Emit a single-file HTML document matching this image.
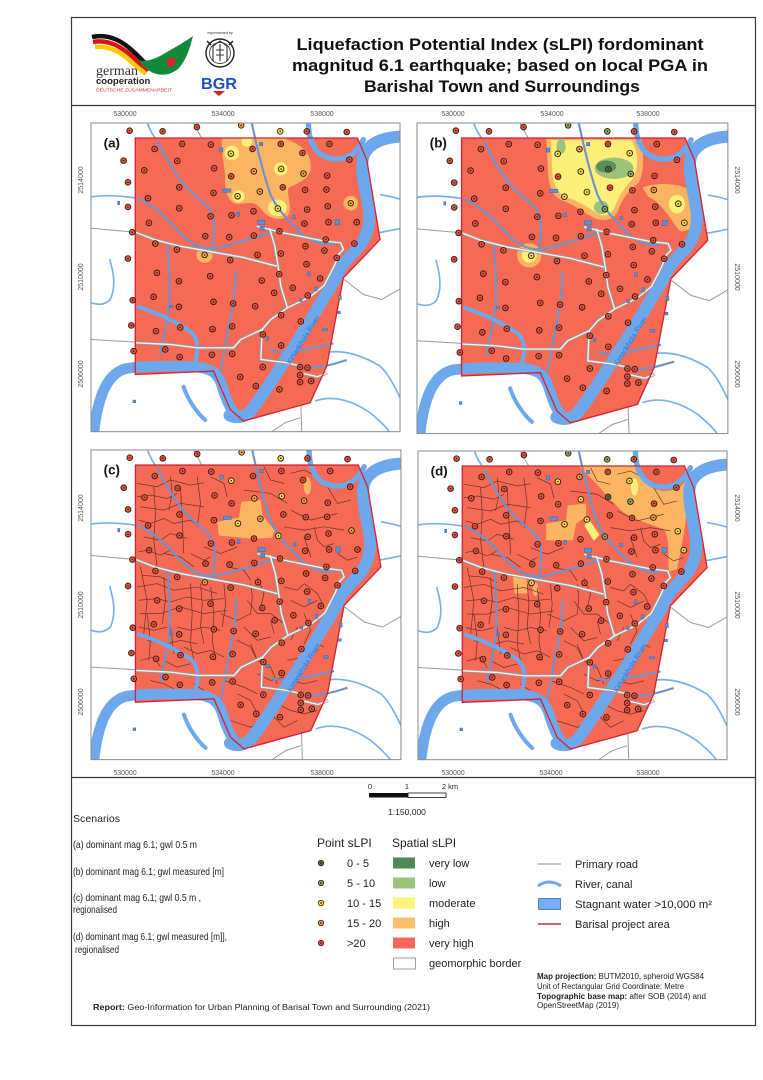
<!DOCTYPE html>
<html><head><meta charset="utf-8">
<style>
html,body{margin:0;padding:0;background:#fff;width:763px;height:1080px;overflow:hidden}
svg{display:block;font-family:"Liberation Sans",Arial,sans-serif}
.r{fill:#e8543e}.o{fill:#f3a648}.y{fill:#f2ea4a}.g{fill:#86b265}.d{fill:#3f7b42}
.pt circle{stroke:#3a1a12;stroke-width:2.8}
.zo{fill:#fbb562}.zy{fill:#fcf07a}.zg{fill:#9dc37b}.zd{fill:#58905a}
.tk{font-size:7px;fill:#555}
</style></head><body>
<svg width="763" height="1080" viewBox="0 0 763 1080" xmlns="http://www.w3.org/2000/svg">
<defs>
<clipPath id="fr"><rect x="62" y="70" width="928" height="927"/></clipPath>
<clipPath id="cp"><path d="M195,115 L862,115 L890,180 L930,420 L820,535 L800,640 L770,800 L720,910 L520,965 L480,930 L430,815 L195,825 Z"/></clipPath>

<g id="under">
 <g fill="none" stroke="#9a9a9a" stroke-width="3">
  <path d="M62,386 L196,398"/><path d="M62,720 L196,728"/>
  <path d="M822,540 L880,585 L935,600 L995,565"/>
  <path d="M600,1000 L645,970 L690,955"/><path d="M690,850 L695,1000"/>
  <path d="M370,72 L400,125 L430,180 L445,230"/>
 </g>
 <g fill="none" stroke="#7ab0ec" stroke-width="5">
  <path d="M62,292 C100,286 150,288 200,296"/>
  <path d="M118,478 C130,520 138,560 120,600 C100,620 80,615 62,610"/>
  <path d="M760,760 C820,748 880,770 930,800 C962,830 982,880 995,905"/>
  <path d="M735,905 C790,885 850,905 900,940 C930,965 950,985 960,1000"/>
  <path d="M995,300 C970,292 950,288 930,285"/>
  <path d="M840,430 C870,400 900,400 935,398 L1000,385"/>
  <path d="M232,72 C240,95 250,110 262,125"/>
 </g>
</g>

<g id="over">
 <g fill="none" stroke="#6f93cc" stroke-width="6.5">
  <path d="M200,296 C260,318 300,370 335,405 C365,435 400,452 440,446 C500,432 560,412 612,396"/>
  <path d="M262,125 C280,160 300,200 330,240 C360,280 400,305 420,330 C440,355 430,420 425,455"/>
  <path d="M545,72 C560,140 578,220 600,282 C620,330 655,362 690,398 C720,425 752,440 790,432"/>
  <path d="M292,432 C296,500 300,560 296,620 C290,680 276,722 270,765"/>
  <path d="M497,515 C496,580 486,640 472,700 C462,760 452,810 444,840"/>
  <path d="M600,752 C650,770 720,745 790,732"/>
  <path d="M690,800 C740,812 785,795 830,782"/>
 </g>
 <g fill="none" stroke="#6ea8ec" stroke-linecap="round">
  <path stroke-width="12" d="M205,622 C260,640 320,668 365,700 C385,720 386,760 372,795"/>
  <path stroke-width="12" d="M340,862 C352,900 380,940 405,962"/>
  <path stroke-width="16" d="M715,70 C715,130 740,175 795,178 C840,180 865,150 880,120"/>
  <path stroke-width="36" d="M1000,110 C950,112 900,125 882,165 C866,205 888,270 896,330 C904,390 880,430 850,460 C825,485 808,505 795,540 L740,630 C705,690 670,745 640,790 C605,845 575,890 545,930 C525,955 500,958 478,948"/>
  <path stroke-width="32" d="M70,1005 C80,905 105,825 165,808 C220,798 300,800 370,802 C420,805 440,820 452,850 C465,890 475,925 500,950"/>
 </g>
 <g fill="none" stroke="#9a9a9a" stroke-width="9" stroke-linejoin="round">
  <path id="rd1" d="M196,398 L252,420 L330,440 L420,456 L520,474 L620,500"/>
  <path id="rd2" d="M560,380 L640,400 L760,424 L812,430 L820,450 L800,470"/>
  <path id="rd3" d="M598,385 L614,440 L624,500 L632,560 L652,625"/>
  <path id="rd4" d="M652,625 L720,592 L762,558 L792,500 L808,462"/>
  <path id="rd5" d="M652,625 L602,660 L576,690 L512,720 L490,745 L380,745 L300,735 L196,730"/>
  <path id="rd6" d="M576,690 L572,780 L650,790 L700,802"/>
  <path id="rd7" d="M700,822 L742,832 L772,820"/>
 </g>
 <g fill="none" stroke="#f4f4f4" stroke-width="4" stroke-linejoin="round">
  <use href="#rd1"/><use href="#rd2"/><use href="#rd3"/><use href="#rd4"/><use href="#rd5"/><use href="#rd6"/><use href="#rd7"/>
 </g>
 <path d="M195,115 L862,115 L890,180 L930,420 L820,535 L800,640 L770,800 L720,910 L520,965 L480,930 L430,815 L195,825 Z" fill="none" stroke="#d22434" stroke-width="4"/>
 <g fill="#5d8ed6" stroke="#3a66a8" stroke-width="1.5">
  <rect x="448" y="145" width="10" height="12"/><rect x="568" y="128" width="10" height="10"/>
  <rect x="458" y="268" width="24" height="10"/><rect x="500" y="338" width="8" height="12"/>
  <rect x="562" y="362" width="22" height="12"/><rect x="570" y="380" width="12" height="12"/>
  <rect x="795" y="360" width="14" height="16"/><rect x="668" y="348" width="8" height="10"/>
  <rect x="712" y="517" width="8" height="12"/><rect x="733" y="562" width="8" height="12"/>
  <rect x="688" y="598" width="8" height="8"/><rect x="806" y="588" width="8" height="12"/>
  <rect x="803" y="635" width="8" height="8"/><rect x="758" y="686" width="14" height="8"/>
  <rect x="588" y="712" width="8" height="10"/><rect x="298" y="618" width="10" height="6"/>
  <rect x="142" y="305" width="6" height="10"/><rect x="188" y="902" width="8" height="8"/>
 </g>
</g>

<g id="dark" fill="none" stroke="#5b2a22" stroke-width="2.2" opacity="0.85">
 <path d="M200,170 L260,180 L300,160 L360,175 L400,168"/>
 <path d="M210,240 L280,250 L330,230 L400,240"/>
 <path d="M220,330 L270,340 L300,320 L350,335"/>
 <path d="M200,480 L260,470 L310,490 L380,480 L440,500"/>
 <path d="M210,560 L270,560 L330,540 L400,560 L470,550"/>
 <path d="M230,640 L290,650 L330,640 L380,650"/>
 <path d="M250,180 L255,260 L250,340 L260,420"/>
 <path d="M330,180 L335,280 L340,380"/>
 <path d="M360,470 L365,560 L360,650 L370,700"/>
 <path d="M420,480 L430,560 L425,640 L435,700"/>
 <path d="M530,520 L560,560 L600,560 L640,590"/>
 <path d="M520,600 L560,640 L600,630"/>
 <path d="M210,420 L230,520 L220,620"/>
 <path d="M450,560 L500,580 L540,560"/>
 <path d="M640,300 L700,310 L760,300 L820,310"/>
 <path d="M660,250 L720,280 L800,260"/>
 <path d="M700,330 L720,390"/>
 <path d="M540,650 L560,700 L600,720 L620,770"/>
 <path d="M620,830 L660,850 L700,860 L740,850"/>
 <path d="M280,700 L320,720 L360,710"/>
 <path d="M460,760 L520,780 L560,800"/>
 <path d="M700,470 L740,500 L760,540"/>
 <path d="M560,450 L580,500 L570,540"/>
 <path d="M400,360 L450,380 L500,360"/>
 <path d="M300,600 L310,680"/>
 <path d="M650,700 L700,690 L740,670"/>
 <path d="M480,880 L540,900 L580,880"/>
 <path d="M770,180 L800,230 L840,220"/>
 <path d="M210,700 L250,690 L270,720"/>
 <path d="M380,150 L390,230 L380,300"/>
 <path d="M470,420 L520,430 L540,460"/>
 <path d="M280,380 L330,390 L370,420"/>
 <path d="M700,560 L720,610 L700,650"/>
 <path d="M520,190 L600,200 L650,230"/>
 <path d="M200,210 L240,205 L290,215 L320,200"/>
 <path d="M205,280 L240,290 L280,275 L310,290 L360,280 L390,300"/>
 <path d="M205,375 L230,370 L270,385 L300,370"/>
 <path d="M215,445 L270,450 L300,465"/>
 <path d="M205,520 L260,515 L300,525 L350,510 L400,520 L460,515"/>
 <path d="M205,600 L250,610 L290,600"/>
 <path d="M320,600 L360,610 L400,600 L450,610"/>
 <path d="M300,150 L305,200 L295,250"/>
 <path d="M280,450 L285,520 L275,590"/>
 <path d="M390,470 L395,530 L390,600 L400,650"/>
 <path d="M460,470 L465,530 L455,600"/>
 <path d="M230,560 L240,640 L235,700"/>
 <path d="M340,660 L380,680 L420,670 L460,690"/>
 <path d="M500,640 L540,660 L560,700"/>
 <path d="M540,470 L545,510 L540,560"/>
 <path d="M600,580 L610,620"/>
 <path d="M640,480 L680,490 L700,470"/>
 <path d="M660,520 L700,540 L740,520"/>
 <path d="M680,600 L660,640"/>
 <path d="M720,640 L760,660"/>
 <path d="M560,740 L600,760 L640,750"/>
 <path d="M500,800 L540,820 L560,860"/>
 <path d="M600,860 L640,900 L680,880"/>
 <path d="M660,760 L700,770 L740,760"/>
 <path d="M730,300 L740,340 L760,360 L790,350"/>
 <path d="M660,140 L700,130 L740,150"/>
 <path d="M420,150 L460,170 L470,210"/>
 <path d="M580,120 L600,160 L640,170"/>
 <path d="M800,380 L830,400 L860,390"/>
 <path d="M360,380 L400,400 L420,390"/>
 <path d="M240,760 L280,770 L320,790"/>
 <path d="M370,770 L400,790"/>
</g>

<g id="ptsR" class="pt">
<circle class="r" cx="178" cy="93" r="8.5"/><circle class="r" cx="277" cy="95" r="8.5"/><circle class="r" cx="380" cy="82" r="8.5"/><circle class="r" cx="710" cy="95" r="8.5"/><circle class="r" cx="830" cy="97" r="8.5"/><circle class="r" cx="336" cy="133" r="8.5"/><circle class="r" cx="422" cy="135" r="8.5"/><circle class="r" cx="632" cy="133" r="8.5"/><circle class="r" cx="778" cy="133" r="8.5"/><circle class="r" cx="253" cy="148" r="8.5"/><circle class="r" cx="160" cy="183" r="8.5"/><circle class="r" cx="321" cy="184" r="8.5"/><circle class="r" cx="432" cy="206" r="8.5"/><circle class="r" cx="838" cy="180" r="8.5"/><circle class="r" cx="222" cy="212" r="8.5"/><circle class="r" cx="483" cy="230" r="8.5"/><circle class="r" cx="771" cy="228" r="8.5"/><circle class="r" cx="173" cy="248" r="8.5"/><circle class="r" cx="327" cy="263" r="8.5"/><circle class="r" cx="430" cy="280" r="8.5"/><circle class="r" cx="638" cy="263" r="8.5"/><circle class="r" cx="705" cy="271" r="8.5"/><circle class="r" cx="233" cy="296" r="8.5"/><circle class="r" cx="173" cy="322" r="8.5"/><circle class="r" cx="327" cy="326" r="8.5"/><circle class="r" cx="550" cy="335" r="8.5"/><circle class="r" cx="711" cy="330" r="8.5"/><circle class="r" cx="773" cy="320" r="8.5"/><circle class="r" cx="421" cy="350" r="8.5"/><circle class="r" cx="484" cy="347" r="8.5"/><circle class="r" cx="236" cy="370" r="8.5"/><circle class="r" cx="703" cy="372" r="8.5"/><circle class="r" cx="775" cy="368" r="8.5"/><circle class="r" cx="186" cy="398" r="8.5"/><circle class="r" cx="405" cy="410" r="8.5"/><circle class="r" cx="477" cy="413" r="8.5"/><circle class="r" cx="551" cy="408" r="8.5"/><circle class="r" cx="628" cy="395" r="8.5"/><circle class="r" cx="767" cy="420" r="8.5"/><circle class="r" cx="255" cy="432" r="8.5"/><circle class="r" cx="320" cy="450" r="8.5"/><circle class="r" cx="706" cy="440" r="8.5"/><circle class="r" cx="763" cy="453" r="8.5"/><circle class="r" cx="853" cy="432" r="8.5"/><circle class="r" cx="173" cy="477" r="8.5"/><circle class="r" cx="480" cy="482" r="8.5"/><circle class="r" cx="562" cy="466" r="8.5"/><circle class="r" cx="632" cy="462" r="8.5"/><circle class="r" cx="800" cy="475" r="8.5"/><circle class="r" cx="260" cy="520" r="8.5"/><circle class="r" cx="709" cy="494" r="8.5"/><circle class="r" cx="326" cy="545" r="8.5"/><circle class="r" cx="420" cy="530" r="8.5"/><circle class="r" cx="575" cy="543" r="8.5"/><circle class="r" cx="627" cy="524" r="8.5"/><circle class="r" cx="668" cy="565" r="8.5"/><circle class="r" cx="750" cy="537" r="8.5"/><circle class="r" cx="250" cy="592" r="8.5"/><circle class="r" cx="612" cy="580" r="8.5"/><circle class="r" cx="713" cy="588" r="8.5"/><circle class="r" cx="187" cy="602" r="8.5"/><circle class="r" cx="326" cy="622" r="8.5"/><circle class="r" cx="430" cy="607" r="8.5"/><circle class="r" cx="489" cy="612" r="8.5"/><circle class="r" cx="555" cy="620" r="8.5"/><circle class="r" cx="633" cy="647" r="8.5"/><circle class="r" cx="692" cy="666" r="8.5"/><circle class="r" cx="183" cy="678" r="8.5"/><circle class="r" cx="257" cy="695" r="8.5"/><circle class="r" cx="330" cy="684" r="8.5"/><circle class="r" cx="427" cy="689" r="8.5"/><circle class="r" cx="486" cy="681" r="8.5"/><circle class="r" cx="578" cy="705" r="8.5"/><circle class="r" cx="190" cy="755" r="8.5"/><circle class="r" cx="285" cy="750" r="8.5"/><circle class="r" cx="633" cy="738" r="8.5"/><circle class="r" cx="328" cy="773" r="8.5"/><circle class="r" cx="425" cy="766" r="8.5"/><circle class="r" cx="486" cy="763" r="8.5"/><circle class="r" cx="578" cy="803" r="8.5"/><circle class="r" cx="690" cy="803" r="8.5"/><circle class="r" cx="712" cy="805" r="8.5"/><circle class="r" cx="510" cy="833" r="8.5"/><circle class="r" cx="690" cy="827" r="8.5"/><circle class="r" cx="723" cy="845" r="8.5"/><circle class="r" cx="690" cy="848" r="8.5"/><circle class="r" cx="557" cy="860" r="8.5"/><circle class="r" cx="628" cy="870" r="8.5"/>
</g>
<g id="ptsA" class="pt">
<circle class="r" cx="547" cy="148" r="8.5"/><circle class="r" cx="697" cy="160" r="8.5"/><circle class="r" cx="769" cy="270" r="8.5"/><circle class="r" cx="860" cy="368" r="8.5"/>
<circle class="o" cx="513" cy="77" r="8.5"/><circle class="o" cx="551" cy="215" r="8.5"/><circle class="o" cx="700" cy="222" r="8.5"/><circle class="o" cx="569" cy="276" r="8.5"/><circle class="o" cx="842" cy="311" r="8.5"/><circle class="o" cx="403" cy="466" r="8.5"/>
<circle class="y" cx="630" cy="95" r="8.5"/><circle class="y" cx="482" cy="162" r="8.5"/><circle class="y" cx="633" cy="208" r="8.5"/><circle class="y" cx="502" cy="290" r="8.5"/><circle class="y" cx="623" cy="327" r="8.5"/>
</g>
<g id="ptsB" class="pt">
<circle class="o" cx="547" cy="148" r="8.5"/><circle class="o" cx="769" cy="270" r="8.5"/>
<circle class="y" cx="482" cy="162" r="8.5"/><circle class="y" cx="697" cy="160" r="8.5"/><circle class="y" cx="551" cy="215" r="8.5"/><circle class="y" cx="569" cy="276" r="8.5"/><circle class="y" cx="502" cy="290" r="8.5"/><circle class="y" cx="842" cy="311" r="8.5"/><circle class="y" cx="860" cy="368" r="8.5"/><circle class="y" cx="403" cy="466" r="8.5"/>
<circle class="g" cx="513" cy="77" r="8.5"/><circle class="g" cx="630" cy="95" r="8.5"/><circle class="g" cx="700" cy="222" r="8.5"/><circle class="g" cx="623" cy="327" r="8.5"/>
<circle class="d" cx="633" cy="208" r="8.5"/>
</g>
<g id="dots" fill="#3a1c14">
<circle cx="178" cy="93" r="2.4"/><circle cx="277" cy="95" r="2.4"/><circle cx="380" cy="82" r="2.4"/><circle cx="710" cy="95" r="2.4"/><circle cx="830" cy="97" r="2.4"/><circle cx="336" cy="133" r="2.4"/><circle cx="422" cy="135" r="2.4"/><circle cx="632" cy="133" r="2.4"/><circle cx="778" cy="133" r="2.4"/><circle cx="253" cy="148" r="2.4"/><circle cx="160" cy="183" r="2.4"/><circle cx="321" cy="184" r="2.4"/><circle cx="432" cy="206" r="2.4"/><circle cx="838" cy="180" r="2.4"/><circle cx="222" cy="212" r="2.4"/><circle cx="483" cy="230" r="2.4"/><circle cx="771" cy="228" r="2.4"/><circle cx="173" cy="248" r="2.4"/><circle cx="327" cy="263" r="2.4"/><circle cx="430" cy="280" r="2.4"/><circle cx="638" cy="263" r="2.4"/><circle cx="705" cy="271" r="2.4"/><circle cx="233" cy="296" r="2.4"/><circle cx="173" cy="322" r="2.4"/><circle cx="327" cy="326" r="2.4"/><circle cx="550" cy="335" r="2.4"/><circle cx="711" cy="330" r="2.4"/><circle cx="773" cy="320" r="2.4"/><circle cx="421" cy="350" r="2.4"/><circle cx="484" cy="347" r="2.4"/><circle cx="236" cy="370" r="2.4"/><circle cx="703" cy="372" r="2.4"/><circle cx="775" cy="368" r="2.4"/><circle cx="186" cy="398" r="2.4"/><circle cx="405" cy="410" r="2.4"/><circle cx="477" cy="413" r="2.4"/><circle cx="551" cy="408" r="2.4"/><circle cx="628" cy="395" r="2.4"/><circle cx="767" cy="420" r="2.4"/><circle cx="255" cy="432" r="2.4"/><circle cx="320" cy="450" r="2.4"/><circle cx="706" cy="440" r="2.4"/><circle cx="763" cy="453" r="2.4"/><circle cx="853" cy="432" r="2.4"/><circle cx="173" cy="477" r="2.4"/><circle cx="480" cy="482" r="2.4"/><circle cx="562" cy="466" r="2.4"/><circle cx="632" cy="462" r="2.4"/><circle cx="800" cy="475" r="2.4"/><circle cx="260" cy="520" r="2.4"/><circle cx="709" cy="494" r="2.4"/><circle cx="326" cy="545" r="2.4"/><circle cx="420" cy="530" r="2.4"/><circle cx="575" cy="543" r="2.4"/><circle cx="627" cy="524" r="2.4"/><circle cx="668" cy="565" r="2.4"/><circle cx="750" cy="537" r="2.4"/><circle cx="250" cy="592" r="2.4"/><circle cx="612" cy="580" r="2.4"/><circle cx="713" cy="588" r="2.4"/><circle cx="187" cy="602" r="2.4"/><circle cx="326" cy="622" r="2.4"/><circle cx="430" cy="607" r="2.4"/><circle cx="489" cy="612" r="2.4"/><circle cx="555" cy="620" r="2.4"/><circle cx="633" cy="647" r="2.4"/><circle cx="692" cy="666" r="2.4"/><circle cx="183" cy="678" r="2.4"/><circle cx="257" cy="695" r="2.4"/><circle cx="330" cy="684" r="2.4"/><circle cx="427" cy="689" r="2.4"/><circle cx="486" cy="681" r="2.4"/><circle cx="578" cy="705" r="2.4"/><circle cx="190" cy="755" r="2.4"/><circle cx="285" cy="750" r="2.4"/><circle cx="633" cy="738" r="2.4"/><circle cx="328" cy="773" r="2.4"/><circle cx="425" cy="766" r="2.4"/><circle cx="486" cy="763" r="2.4"/><circle cx="578" cy="803" r="2.4"/><circle cx="690" cy="803" r="2.4"/><circle cx="712" cy="805" r="2.4"/><circle cx="510" cy="833" r="2.4"/><circle cx="690" cy="827" r="2.4"/><circle cx="723" cy="845" r="2.4"/><circle cx="690" cy="848" r="2.4"/><circle cx="557" cy="860" r="2.4"/><circle cx="628" cy="870" r="2.4"/>
<circle cx="547" cy="148" r="2.4"/><circle cx="697" cy="160" r="2.4"/><circle cx="769" cy="270" r="2.4"/><circle cx="860" cy="368" r="2.4"/><circle cx="513" cy="77" r="2.4"/><circle cx="551" cy="215" r="2.4"/><circle cx="700" cy="222" r="2.4"/><circle cx="569" cy="276" r="2.4"/><circle cx="842" cy="311" r="2.4"/><circle cx="403" cy="466" r="2.4"/><circle cx="630" cy="95" r="2.4"/><circle cx="482" cy="162" r="2.4"/><circle cx="633" cy="208" r="2.4"/><circle cx="502" cy="290" r="2.4"/><circle cx="623" cy="327" r="2.4"/>
</g>
<path id="polyF" d="M195,115 L862,115 L890,180 L930,420 L820,535 L800,640 L770,800 L720,910 L520,965 L480,930 L430,815 L195,825 Z"/>
</defs>

<!-- outer frame -->
<rect x="71.5" y="17.5" width="684" height="1008" fill="#fff" stroke="#3a3a3a" stroke-width="1.2"/>
<line x1="71" y1="105.5" x2="756" y2="105.5" stroke="#3a3a3a" stroke-width="1.2"/>
<line x1="71" y1="777.5" x2="756" y2="777.5" stroke="#3a3a3a" stroke-width="1.2"/>

<!-- logos -->
<g>
 <path d="M92,37 C110,33 125,42 140,58 L150,68" fill="none" stroke="#111" stroke-width="4.5"/>
 <path d="M93,42 C110,39 124,48 138,62 L148,71" fill="none" stroke="#dd1111" stroke-width="4.5"/>
 <path d="M95,47 C111,45 123,54 136,66 L146,74" fill="none" stroke="#ffcc00" stroke-width="4.5"/>
 <path d="M138,60 C150,76 165,79 178,69 C186,61 190,48 193,36 C182,44 170,50 160,56 C152,60 145,62 138,60 Z" fill="#128a3a"/>
 <circle cx="171" cy="62" r="4.5" fill="#e5202e"/>
 <text x="96" y="75" font-family="Liberation Serif,serif" font-size="14" fill="#333">german</text>
 <text x="96" y="84" font-size="9.5" font-weight="bold" fill="#222">cooperation</text>
 <text x="96" y="91.5" font-size="4.6" fill="#d03030" textLength="76" lengthAdjust="spacingAndGlyphs">DEUTSCHE ZUSAMMENARBEIT</text>
 <text x="220" y="34" font-size="3.6" fill="#333" text-anchor="middle">implemented by</text>
 <circle cx="220" cy="53" r="14" fill="#fff" stroke="#222" stroke-width="1.4"/>
 <circle cx="220" cy="53" r="10.5" fill="none" stroke="#444" stroke-width="0.9"/>
 <path d="M213,61 L213,46 L220,41 L227,46 L227,61 M216,50 L224,50 M216,55 L224,55 M220,44 L220,61" fill="none" stroke="#333" stroke-width="1.1"/>
 <path d="M207,41 L211,45 M233,41 L229,45" stroke="#222" stroke-width="1.5"/>
 <text x="219" y="89" font-size="15.5" font-weight="bold" fill="#1d4fc4" text-anchor="middle" textLength="36" lengthAdjust="spacingAndGlyphs">BGR</text>
 <path d="M213,91 L225,91 L219,96 Z" fill="#d82020"/>
</g>
<g font-weight="bold" font-size="16.5" fill="#111" text-anchor="middle">
 <text x="500" y="50" textLength="407" lengthAdjust="spacingAndGlyphs">Liquefaction Potential Index (sLPI) fordominant</text>
 <text x="500" y="71" textLength="416" lengthAdjust="spacingAndGlyphs">magnitud 6.1 earthquake; based on local PGA in</text>
 <text x="502" y="92" textLength="276" lengthAdjust="spacingAndGlyphs">Barishal Town and Surroundings</text>
</g>

<!-- Panel a -->
<g transform="translate(91,123) scale(0.333) translate(-62,-70)">
 <g clip-path="url(#fr)">
  <rect x="62" y="70" width="928" height="927" fill="#fff"/>
  <use href="#under"/>
  <use href="#polyF" fill="#f56a55"/>
  <g clip-path="url(#cp)">
   <path class="zo" d="M455,115 L640,115 C680,130 722,150 722,200 C724,240 680,250 655,265 C648,290 672,330 650,352 C620,368 588,352 568,322 C548,300 520,316 495,312 C470,302 462,262 465,230 C462,190 452,150 455,115 Z"/>
   <circle class="zy" cx="485" cy="160" r="22"/><circle class="zy" cx="530" cy="125" r="16"/>
   <circle class="zy" cx="505" cy="290" r="18"/><circle class="zy" cx="632" cy="208" r="20"/>
   <ellipse class="zy" cx="622" cy="325" rx="28" ry="25"/>
   <circle class="zo" cx="403" cy="466" r="24"/><circle class="zo" cx="842" cy="311" r="22"/><circle class="zy" cx="842" cy="311" r="12"/>
  </g>
  <use href="#over"/>
  <text transform="translate(705,725) rotate(-58)" font-size="22" fill="#3c6dc0" text-anchor="middle">Kirtankhola River</text>
  <use href="#ptsR"/><use href="#ptsA"/><use href="#dots"/>
  <text x="100" y="143" font-size="40" font-weight="bold" fill="#111">(a)</text>
 </g>
 <rect x="62" y="70" width="928" height="927" fill="none" stroke="#8a8a8a" stroke-width="3"/>
</g>

<!-- Panel b -->
<g transform="translate(417,123) scale(0.335) translate(-62,-70)">
 <g clip-path="url(#fr)">
  <rect x="62" y="70" width="928" height="927" fill="#fff"/>
  <use href="#under"/>
  <use href="#polyF" fill="#f56a55"/>
  <g clip-path="url(#cp)">
   <path class="zo" d="M448,115 L732,115 C738,160 742,220 722,250 C692,272 672,302 662,332 C652,358 620,368 588,352 C558,336 528,312 498,302 C468,292 458,262 454,230 Z"/>
   <path class="zo" d="M735,262 C780,248 835,248 872,268 L885,385 L850,395 C820,362 792,305 752,290 Z"/>
   <circle class="zo" cx="397" cy="465" r="36"/>
   <path class="zy" d="M462,122 L702,122 C722,152 726,202 706,236 C682,262 662,292 652,322 C642,347 615,352 595,337 C570,318 540,302 510,292 C482,282 470,252 466,222 Z"/>
   <ellipse class="zy" cx="838" cy="312" rx="24" ry="28"/><circle class="zy" cx="397" cy="465" r="22"/>
   <ellipse class="zg" cx="650" cy="205" rx="58" ry="32"/><ellipse class="zg" cx="612" cy="322" rx="22" ry="20"/><ellipse class="zg" cx="492" cy="140" rx="14" ry="22"/>
   <ellipse class="zd" cx="627" cy="200" rx="30" ry="18"/>
  </g>
  <use href="#over"/>
  <text transform="translate(705,725) rotate(-58)" font-size="22" fill="#3c6dc0" text-anchor="middle">Kirtankhola River</text>
  <use href="#ptsR"/><use href="#ptsB"/><use href="#dots"/>
  <text x="100" y="143" font-size="40" font-weight="bold" fill="#111">(b)</text>
 </g>
 <rect x="62" y="70" width="928" height="927" fill="none" stroke="#8a8a8a" stroke-width="3"/>
</g>

<!-- Panel c -->
<g transform="translate(91,450) scale(0.334) translate(-62,-70)">
 <g clip-path="url(#fr)">
  <rect x="62" y="70" width="928" height="927" fill="#fff"/>
  <use href="#under"/>
  <use href="#polyF" fill="#f56a55"/>
  <g clip-path="url(#cp)">
   <path class="zo" d="M440,285 L505,272 L512,225 L570,220 L575,265 L612,310 L605,332 L550,336 L445,326 Z"/>
   <ellipse class="zo" cx="710" cy="178" rx="11" ry="26"/>
   <use href="#dark"/>
  </g>
  <use href="#over"/>
  <text transform="translate(705,725) rotate(-58)" font-size="22" fill="#3c6dc0" text-anchor="middle">Kirtankhola River</text>
  <use href="#ptsR"/><use href="#ptsA"/><use href="#dots"/>
  <text x="100" y="143" font-size="40" font-weight="bold" fill="#111">(c)</text>
 </g>
 <rect x="62" y="70" width="928" height="927" fill="none" stroke="#8a8a8a" stroke-width="3"/>
</g>

<!-- Panel d -->
<g transform="translate(418,451) scale(0.333) translate(-62,-70)">
 <g clip-path="url(#fr)">
  <rect x="62" y="70" width="928" height="927" fill="#fff"/>
  <use href="#under"/>
  <use href="#polyF" fill="#f56a55"/>
  <g clip-path="url(#cp)">
   <path class="zo" d="M542,113 L722,113 C730,150 748,186 800,190 C840,190 860,175 868,150 L868,250 C865,300 855,350 840,425 L815,432 C812,380 820,330 800,305 C760,290 710,275 680,255 C640,220 610,180 580,150 Z"/>
   <path class="zo" d="M447,288 L507,278 L512,233 L567,228 L567,268 L537,288 L527,338 L447,338 Z"/>
   <path class="zo" d="M347,448 L387,448 L392,498 L352,498 Z"/>
   <ellipse class="zo" cx="415" cy="485" rx="9" ry="20"/>
   <path class="zy" d="M572,270 L607,322 L590,340 L562,295 Z"/>
   <ellipse class="zy" cx="712" cy="178" rx="11" ry="26"/>
   <use href="#dark"/>
  </g>
  <use href="#over"/>
  <text transform="translate(705,725) rotate(-58)" font-size="22" fill="#3c6dc0" text-anchor="middle">Kirtankhola River</text>
  <use href="#ptsR"/><use href="#ptsB"/><use href="#dots"/>
  <text x="100" y="143" font-size="40" font-weight="bold" fill="#111">(d)</text>
 </g>
 <rect x="62" y="70" width="928" height="927" fill="none" stroke="#8a8a8a" stroke-width="3"/>
</g>

<!-- tick labels -->
<g class="tk" text-anchor="middle">
 <text x="125" y="116" class="tk">530000</text><text x="223" y="116" class="tk">534000</text><text x="322" y="116" class="tk">538000</text>
 <text x="453" y="116" class="tk">530000</text><text x="552" y="116" class="tk">534000</text><text x="648" y="116" class="tk">538000</text>
 <text x="125" y="775" class="tk">530000</text><text x="223" y="775" class="tk">534000</text><text x="322" y="775" class="tk">538000</text>
 <text x="453" y="775" class="tk">530000</text><text x="551" y="775" class="tk">534000</text><text x="648" y="775" class="tk">538000</text>
 <text transform="translate(83,180) rotate(-90)" class="tk">2514000</text>
 <text transform="translate(83,277) rotate(-90)" class="tk">2510000</text>
 <text transform="translate(83,374) rotate(-90)" class="tk">2506000</text>
 <text transform="translate(83,508) rotate(-90)" class="tk">2514000</text>
 <text transform="translate(83,605) rotate(-90)" class="tk">2510000</text>
 <text transform="translate(83,702) rotate(-90)" class="tk">2506000</text>
 <text transform="translate(735,180) rotate(90)" class="tk">2514000</text>
 <text transform="translate(735,277) rotate(90)" class="tk">2510000</text>
 <text transform="translate(735,374) rotate(90)" class="tk">2506000</text>
 <text transform="translate(735,508) rotate(90)" class="tk">2514000</text>
 <text transform="translate(735,605) rotate(90)" class="tk">2510000</text>
 <text transform="translate(735,702) rotate(90)" class="tk">2506000</text>
</g>

<!-- scale bar -->
<g font-size="7.5" fill="#222" text-anchor="middle">
 <text x="370" y="789">0</text><text x="407" y="789">1</text><text x="450" y="789">2 km</text>
 <rect x="369" y="793" width="39" height="4.5" fill="#111"/>
 <rect x="408" y="793" width="38" height="4.5" fill="#fff" stroke="#111" stroke-width="0.8"/>
 <text x="407" y="815" font-size="8.5">1:150,000</text>
</g>

<!-- scenarios -->
<g font-size="10.5" fill="#222">
 <text x="73" y="822" textLength="47" lengthAdjust="spacingAndGlyphs">Scenarios</text>
 <text x="73" y="848" textLength="124" lengthAdjust="spacingAndGlyphs">(a) dominant mag 6.1; gwl 0.5 m</text>
 <text x="73" y="875" textLength="151" lengthAdjust="spacingAndGlyphs">(b) dominant mag 6.1; gwl measured [m]</text>
 <text x="73" y="901" textLength="128" lengthAdjust="spacingAndGlyphs">(c) dominant mag 6.1; gwl 0.5 m ,</text>
 <text x="73" y="913" textLength="44" lengthAdjust="spacingAndGlyphs">regionalised</text>
 <text x="73" y="940" textLength="154" lengthAdjust="spacingAndGlyphs">(d) dominant mag 6.1; gwl measured [m]],</text>
 <text x="75" y="953" textLength="44" lengthAdjust="spacingAndGlyphs">regionalised</text>
</g>

<!-- point / spatial legend -->
<g font-size="11" fill="#222">
 <text x="317" y="847" font-size="12">Point sLPI</text>
 <text x="392" y="847" font-size="12">Spatial sLPI</text>
 <g stroke="#40201a" stroke-width="0.9">
  <circle cx="321" cy="863" r="2.7" fill="#3f7b42"/>
  <circle cx="321" cy="883" r="2.7" fill="#86b265"/>
  <circle cx="321" cy="903" r="2.7" fill="#f2ea4a"/>
  <circle cx="321" cy="923" r="2.7" fill="#f3a648"/>
  <circle cx="321" cy="943" r="2.7" fill="#e8543e"/>
 </g>
 <g fill="#3a1c14"><circle cx="321" cy="863" r="0.9"/><circle cx="321" cy="883" r="0.9"/><circle cx="321" cy="903" r="0.9"/><circle cx="321" cy="923" r="0.9"/><circle cx="321" cy="943" r="0.9"/></g>
 <text x="347" y="867">0 - 5</text>
 <text x="347" y="887">5 - 10</text>
 <text x="347" y="907">10 - 15</text>
 <text x="347" y="927">15 - 20</text>
 <text x="347" y="947">&gt;20</text>
 <rect x="393" y="857.5" width="22" height="11" fill="#4e8a55"/>
 <rect x="393" y="877.5" width="22" height="11" fill="#9dc37b"/>
 <rect x="393" y="897.5" width="22" height="11" fill="#fdf57a"/>
 <rect x="393" y="917.5" width="22" height="11" fill="#fdbd6a"/>
 <rect x="393" y="937.5" width="22" height="11" fill="#f8675a"/>
 <rect x="393.5" y="958" width="22" height="11" fill="#fff" stroke="#888" stroke-width="0.8"/>
 <text x="429" y="867">very low</text>
 <text x="429" y="887">low</text>
 <text x="429" y="907">moderate</text>
 <text x="429" y="927">high</text>
 <text x="429" y="947">very high</text>
 <text x="429" y="967">geomorphic border</text>
</g>

<!-- line legend -->
<g font-size="11" fill="#222">
 <line x1="538" y1="864" x2="561" y2="864" stroke="#8a8a8a" stroke-width="1"/>
 <path d="M538,886 Q549,878 561,886" fill="none" stroke="#6ea8ec" stroke-width="3"/>
 <rect x="538.5" y="898.5" width="22" height="11" fill="#78aef0" stroke="#3c6bb0" stroke-width="0.8"/>
 <line x1="538" y1="924" x2="561" y2="924" stroke="#d42a3a" stroke-width="1.6"/>
 <text x="575" y="868">Primary road</text>
 <text x="575" y="888">River, canal</text>
 <text x="575" y="908" textLength="137" lengthAdjust="spacingAndGlyphs">Stagnant water &gt;10,000 m²</text>
 <text x="575" y="928">Barisal project area</text>
</g>

<!-- info -->
<g font-size="8" fill="#222">
 <text x="537" y="979" textLength="167" lengthAdjust="spacingAndGlyphs"><tspan font-weight="bold">Map projection:</tspan> BUTM2010, spheroid WGS84</text>
 <text x="537" y="989" textLength="147" lengthAdjust="spacingAndGlyphs">Unit of Rectangular Grid Coordinate: Metre</text>
 <text x="537" y="999" textLength="169" lengthAdjust="spacingAndGlyphs"><tspan font-weight="bold">Topographic base map:</tspan> after SOB (2014) and</text>
 <text x="537" y="1008" textLength="82" lengthAdjust="spacingAndGlyphs">OpenStreetMap (2019)</text>
 <text x="93" y="1010" textLength="337" lengthAdjust="spacingAndGlyphs"><tspan font-weight="bold">Report:</tspan> Geo-Information for Urban Planning of Barisal Town and Surrounding (2021)</text>
</g>
</svg>
</body></html>
